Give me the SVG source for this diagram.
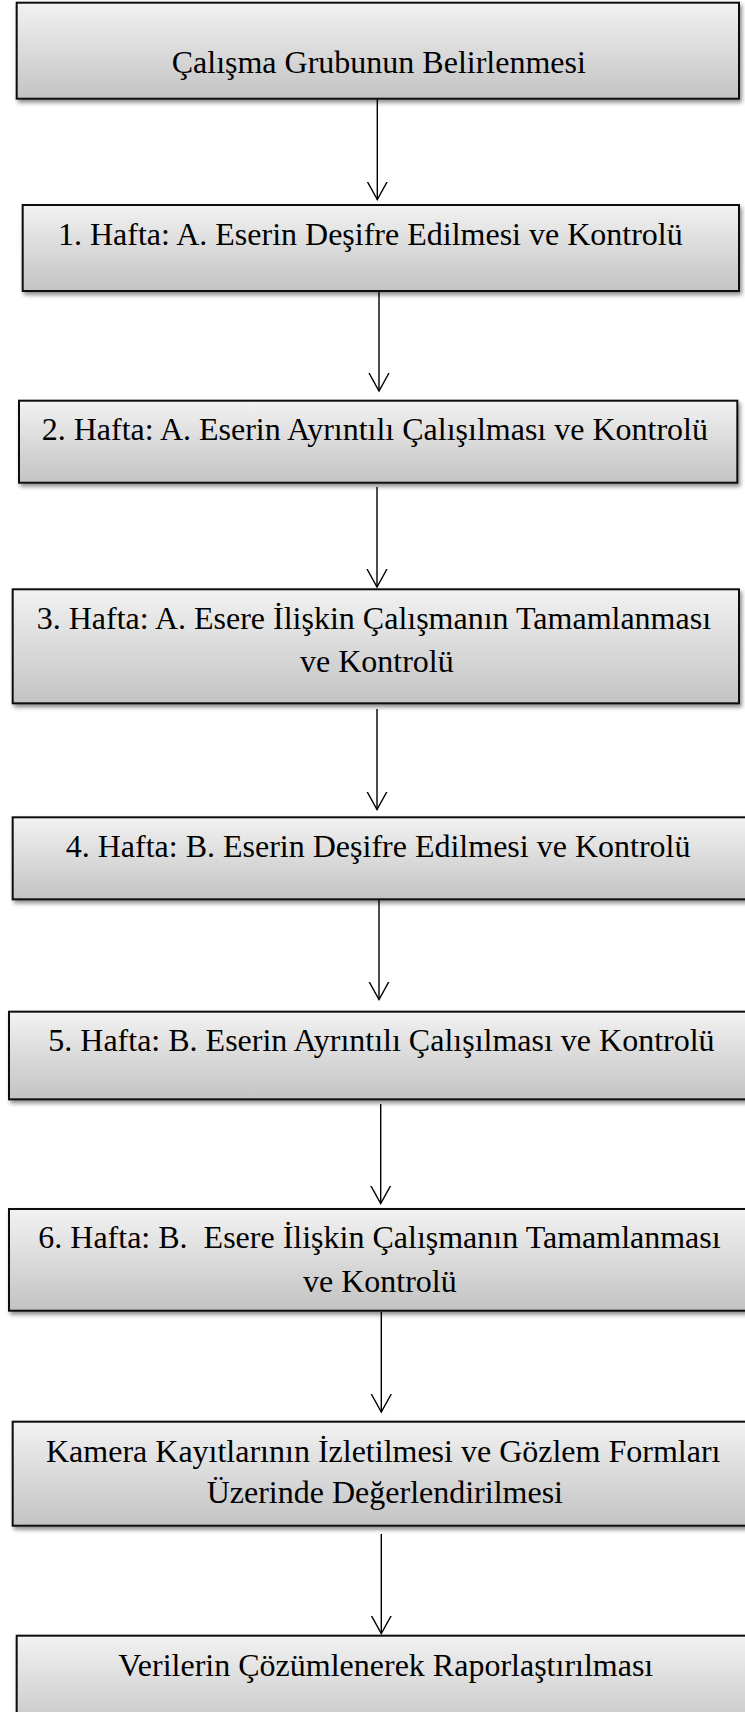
<svg xmlns="http://www.w3.org/2000/svg" width="745" height="1712" viewBox="0 0 745 1712">
<style>
.box{fill:url(#g);stroke:#111;stroke-width:2;filter:url(#sh)}
.t{font-family:"Liberation Serif","Times New Roman",serif;font-size:32px;fill:#000;white-space:pre}
.c{stroke:#000;stroke-width:1.4;fill:none;marker-end:url(#ah)}
</style>
<defs>
<linearGradient id="g" x1="0" y1="0" x2="0" y2="1">
<stop offset="0" stop-color="#f2f2f2"/>
<stop offset="1" stop-color="#c3c3c3"/>
</linearGradient>
<filter id="sh" x="-5%" y="-10%" width="115%" height="130%">
<feDropShadow dx="2" dy="3" stdDeviation="2" flood-color="#000" flood-opacity="0.45"/>
</filter>
<marker id="ah" viewBox="0 0 20 22" refX="18" refY="11" markerWidth="20" markerHeight="22" markerUnits="userSpaceOnUse" orient="auto">
<path d="M0,1 L18,11 L0,21" fill="none" stroke="#000" stroke-width="1.4"/>
</marker>
</defs>
<g id="connectors">
<line class="c" x1="377.3" y1="99" x2="377.3" y2="199.5"/>
<line class="c" x1="379" y1="292" x2="379" y2="391"/>
<line class="c" x1="377" y1="487" x2="377" y2="587"/>
<line class="c" x1="377" y1="709" x2="377" y2="809.5"/>
<line class="c" x1="379" y1="900" x2="379" y2="999.5"/>
<line class="c" x1="380.7" y1="1104" x2="380.7" y2="1203.5"/>
<line class="c" x1="381.3" y1="1312" x2="381.3" y2="1412"/>
<line class="c" x1="381.3" y1="1534" x2="381.3" y2="1633.5"/>
</g>
<g id="n1"><rect class="box" x="16.7" y="2.7" width="722.3" height="96"/><text class="t" x="171.7" y="72.7">Çalışma Grubunun Belirlenmesi</text></g>
<g id="n2"><rect class="box" x="22.7" y="205" width="716.3" height="86"/><text class="t" x="58" y="245">1. Hafta: A. Eserin Deşifre Edilmesi ve Kontrolü</text></g>
<g id="n3"><rect class="box" x="19" y="400.7" width="718.3" height="82"/><text class="t" x="41.7" y="440">2. Hafta: A. Eserin Ayrıntılı Çalışılması ve Kontrolü</text></g>
<g id="n4"><rect class="box" x="12.7" y="589.3" width="726.3" height="114"/><text class="t" x="36.7" y="629">3. Hafta: A. Esere İlişkin Çalışmanın Tamamlanması</text><text class="t" x="300" y="671.7">ve Kontrolü</text></g>
<g id="n5"><rect class="box" x="12.7" y="817.3" width="745" height="82"/><text class="t" x="65.7" y="856.7">4. Hafta: B. Eserin Deşifre Edilmesi ve Kontrolü</text></g>
<g id="n6"><rect class="box" x="9" y="1011.7" width="750" height="87.6"/><text class="t" x="48.3" y="1050.7">5. Hafta: B. Eserin Ayrıntılı Çalışılması ve Kontrolü</text></g>
<g id="n7"><rect class="box" x="9" y="1209" width="750" height="101.7"/><text class="t" x="38.3" y="1248.3">6. Hafta: B.  Esere İlişkin Çalışmanın Tamamlanması</text><text class="t" x="303" y="1292">ve Kontrolü</text></g>
<g id="n8"><rect class="box" x="12.7" y="1421.7" width="745" height="104"/><text class="t" x="46" y="1462.3">Kamera Kayıtlarının İzletilmesi ve Gözlem Formları</text><text class="t" x="206.7" y="1503.3">Üzerinde Değerlendirilmesi</text></g>
<g id="n9"><rect class="box" x="16.7" y="1635.7" width="745" height="100"/><text class="t" x="118.3" y="1675.7">Verilerin Çözümlenerek Raporlaştırılması</text></g>
</svg>
